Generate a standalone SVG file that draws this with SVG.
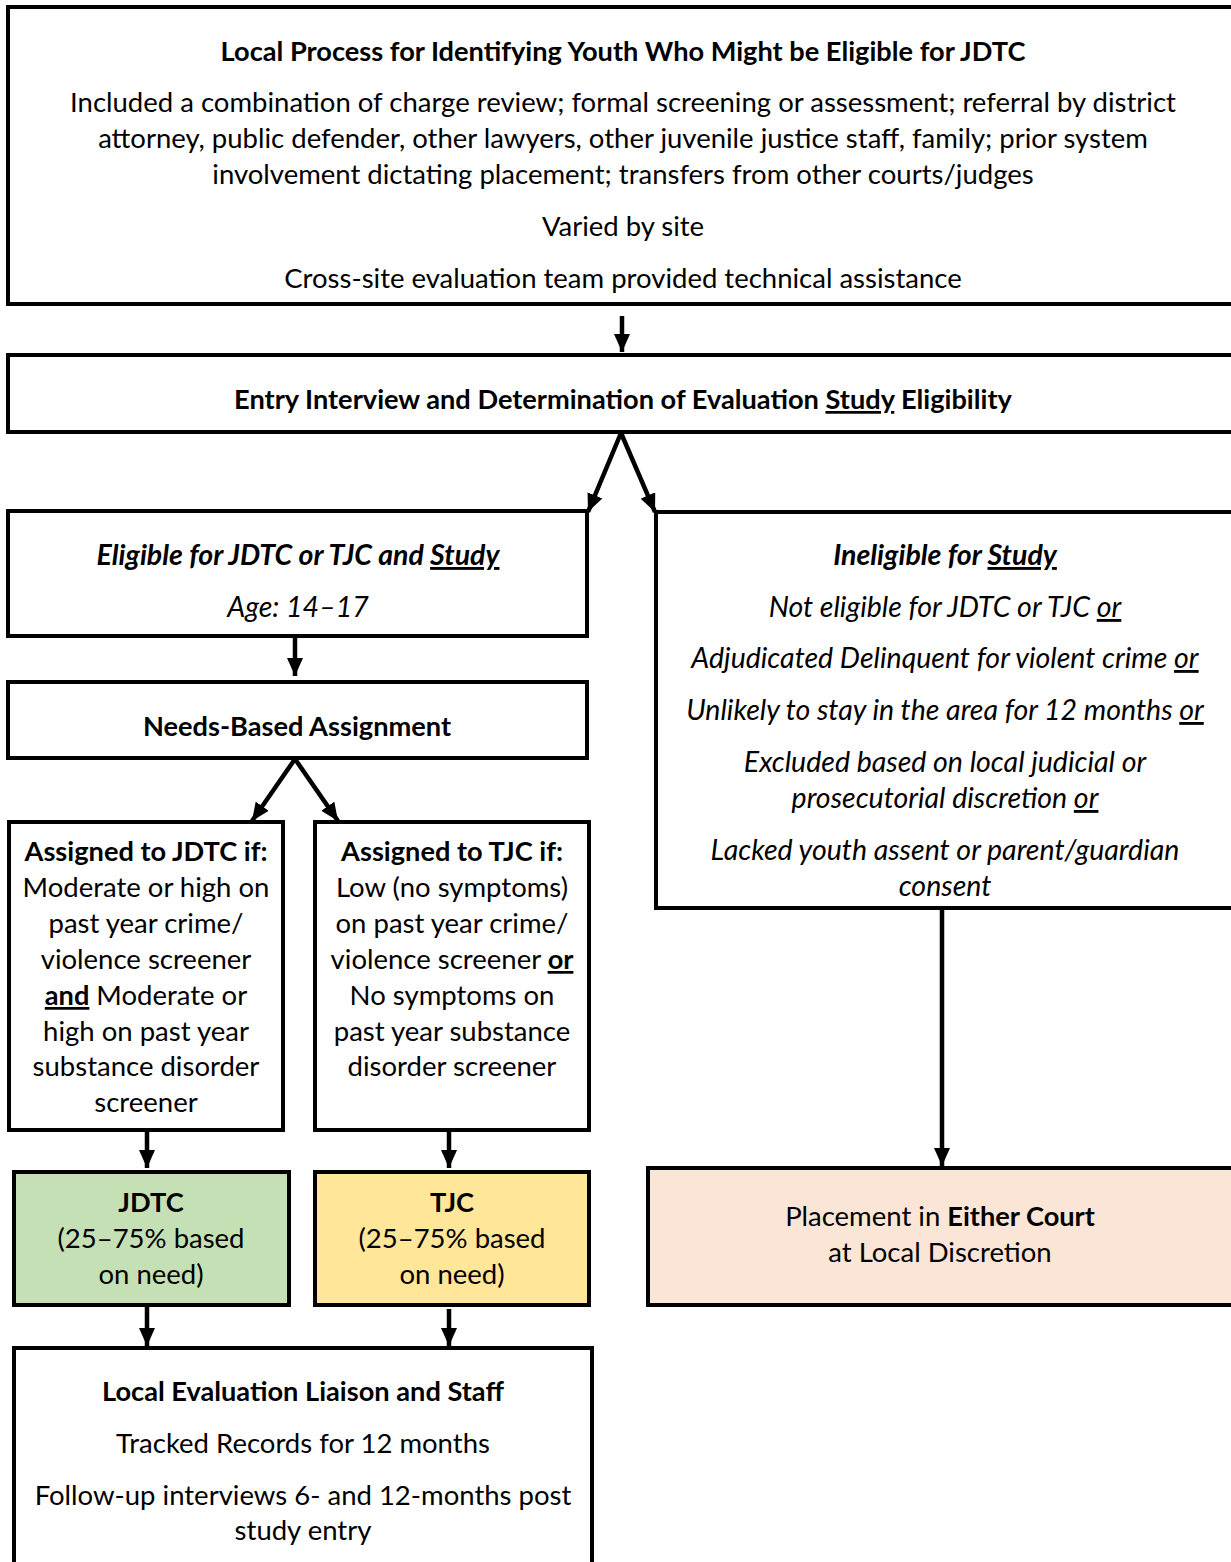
<svg xmlns="http://www.w3.org/2000/svg" width="1231" height="1562" viewBox="0 0 1231 1562">
<style>
.box{fill:#fff;stroke:#000;stroke-width:4}
.t{font-family:Lato,"Liberation Sans",sans-serif;font-size:27.5px;fill:#000;text-anchor:middle}
.b{font-weight:bold;font-size:27.2px}
.i{font-style:italic;font-size:28.5px}
.u{text-decoration:underline}
.c{stroke:#000;stroke-width:4.5;fill:none}
</style>
<defs>
<marker id="ah" markerUnits="userSpaceOnUse" markerWidth="20" markerHeight="16" refX="18" refY="8" orient="auto">
<path d="M0,0 L18,8 L0,16 z" fill="#000"/>
</marker>
</defs>
<rect width="1231" height="1562" fill="#fff"/>
<g id="n1">
<rect class="box" x="8" y="7" width="1240" height="297"/>
<text class="t b" x="623" y="61">Local Process for Identifying Youth Who Might be Eligible for JDTC</text>
<text class="t" x="623" y="112">Included a combination of charge review; formal screening or assessment; referral by district</text>
<text class="t" x="623" y="148">attorney, public defender, other lawyers, other juvenile justice staff, family; prior system</text>
<text class="t" x="623" y="184">involvement dictating placement; transfers from other courts/judges</text>
<text class="t" x="623" y="236">Varied by site</text>
<text class="t" x="623" y="288">Cross-site evaluation team provided technical assistance</text>
</g>
<g id="n2">
<rect class="box" x="8" y="355" width="1240" height="77"/>
<text class="t b" x="623" y="409">Entry Interview and Determination of Evaluation <tspan class="u">Study</tspan> Eligibility</text>
</g>
<g id="n3">
<rect class="box" x="8" y="511" width="579" height="125"/>
<text class="t b i" x="298" y="565">Eligible for JDTC or TJC and <tspan class="u">Study</tspan></text>
<text class="t i" x="298" y="617">Age: 14–17</text>
</g>
<g id="n4">
<rect class="box" x="656" y="512" width="592" height="396"/>
<text class="t b i" x="945" y="565">Ineligible for <tspan class="u">Study</tspan></text>
<text class="t i" x="945" y="617">Not eligible for JDTC or TJC <tspan class="u">or</tspan></text>
<text class="t i" x="945" y="668">Adjudicated Delinquent for violent crime <tspan class="u">or</tspan></text>
<text class="t i" x="945" y="720">Unlikely to stay in the area for 12 months <tspan class="u">or</tspan></text>
<text class="t i" x="945" y="772">Excluded based on local judicial or</text>
<text class="t i" x="945" y="808">prosecutorial discretion <tspan class="u">or</tspan></text>
<text class="t i" x="945" y="860">Lacked youth assent or parent/guardian</text>
<text class="t i" x="945" y="896">consent</text>
</g>
<g id="n5">
<rect class="box" x="8" y="682" width="579" height="76"/>
<text class="t b" x="297" y="736">Needs-Based Assignment</text>
</g>
<g id="n6">
<rect class="box" x="9" y="822" width="274" height="308"/>
<text class="t b" x="146" y="861">Assigned to JDTC if:</text>
<text class="t" x="146" y="897">Moderate or high on</text>
<text class="t" x="146" y="933">past year crime/</text>
<text class="t" x="146" y="969">violence screener</text>
<text class="t" x="146" y="1005"><tspan class="b u">and</tspan> Moderate or</text>
<text class="t" x="146" y="1041">high on past year</text>
<text class="t" x="146" y="1076">substance disorder</text>
<text class="t" x="146" y="1112">screener</text>
</g>
<g id="n7">
<rect class="box" x="315" y="822" width="274" height="308"/>
<text class="t b" x="452" y="861">Assigned to TJC if:</text>
<text class="t" x="452" y="897">Low (no symptoms)</text>
<text class="t" x="452" y="933">on past year crime/</text>
<text class="t" x="452" y="969">violence screener <tspan class="b u">or</tspan></text>
<text class="t" x="452" y="1005">No symptoms on</text>
<text class="t" x="452" y="1041">past year substance</text>
<text class="t" x="452" y="1076">disorder screener</text>
</g>
<g id="n8">
<rect class="box" x="14" y="1172" width="275" height="133" style="fill:#c5e0b4"/>
<text class="t b" x="151" y="1212">JDTC</text>
<text class="t" x="151" y="1248">(25–75% based</text>
<text class="t" x="151" y="1284">on need)</text>
</g>
<g id="n9">
<rect class="box" x="315" y="1172" width="274" height="133" style="fill:#ffe699"/>
<text class="t b" x="452" y="1212">TJC</text>
<text class="t" x="452" y="1248">(25–75% based</text>
<text class="t" x="452" y="1284">on need)</text>
</g>
<g id="n10">
<rect class="box" x="14" y="1348" width="578" height="230"/>
<text class="t b" x="303" y="1401">Local Evaluation Liaison and Staff</text>
<text class="t" x="303" y="1453">Tracked Records for 12 months</text>
<text class="t" x="303" y="1505">Follow-up interviews 6- and 12-months post</text>
<text class="t" x="303" y="1540">study entry</text>
</g>
<g id="n11">
<rect class="box" x="648" y="1168" width="600" height="137" style="fill:#fbe5d6"/>
<text class="t" x="940" y="1226">Placement in <tspan class="b">Either Court</tspan></text>
<text class="t" x="940" y="1262">at Local Discretion</text>
</g>
<g id="connectors">
<line class="c" x1="622" y1="316" x2="622" y2="352" marker-end="url(#ah)"/>
<line class="c" x1="621" y1="433" x2="588" y2="512" marker-end="url(#ah)"/>
<line class="c" x1="621" y1="433" x2="655" y2="512" marker-end="url(#ah)"/>
<line class="c" x1="295" y1="638" x2="295" y2="676" marker-end="url(#ah)"/>
<line class="c" x1="295" y1="759" x2="252" y2="821" marker-end="url(#ah)"/>
<line class="c" x1="295" y1="759" x2="338" y2="821" marker-end="url(#ah)"/>
<line class="c" x1="147" y1="1131" x2="147" y2="1168" marker-end="url(#ah)"/>
<line class="c" x1="449" y1="1131" x2="449" y2="1168" marker-end="url(#ah)"/>
<line class="c" x1="147" y1="1307" x2="147" y2="1346" marker-end="url(#ah)"/>
<line class="c" x1="449" y1="1309" x2="449" y2="1346" marker-end="url(#ah)"/>
<line class="c" x1="942" y1="910" x2="942" y2="1166" marker-end="url(#ah)"/>
</g>
</svg>
